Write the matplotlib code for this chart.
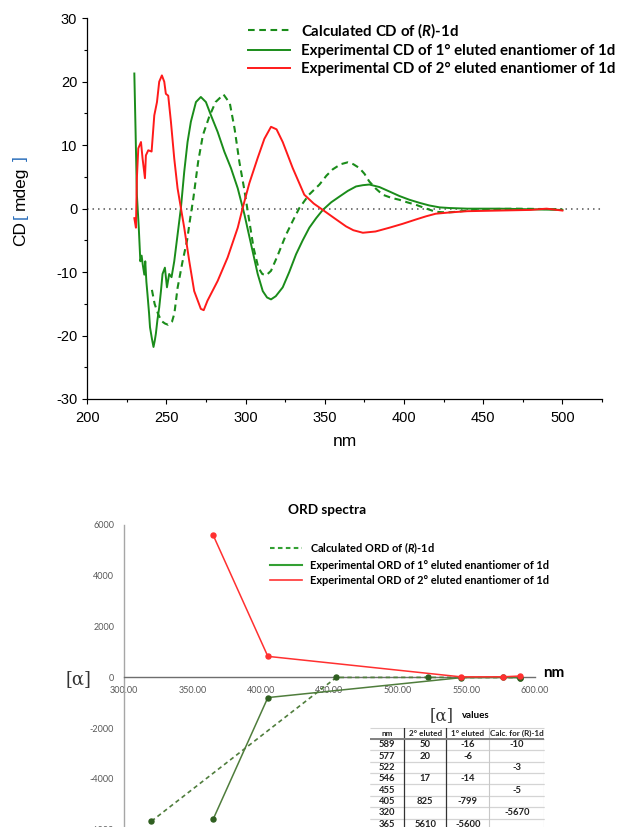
import matplotlib
matplotlib.use("Agg")
import matplotlib.pyplot as plt
from matplotlib.lines import Line2D
from matplotlib.ticker import MultipleLocator, FixedLocator, FuncFormatter

plt.rcParams['axes.unicode_minus'] = False
plt.rcParams['mathtext.fontset'] = 'custom'
plt.rcParams['mathtext.it'] = 'Lato:italic:bold'
plt.rcParams['mathtext.rm'] = 'Lato:bold'

# ---------------- CD data ----------------
cd_exp1_nm = [229.7, 230.5, 231.3, 232.5, 233.5, 234.3, 235.0, 236.0, 236.6, 237.3, 238.0,
              239.0, 239.6, 240.8, 241.8, 242.6, 243.3, 244.3, 245.4, 246.5, 247.5, 249.0,
              250.3, 251.7, 253.2, 254.9, 257.0, 259.1, 261.2, 263.3, 265.4, 268.6, 271.7,
              274.9, 278.1, 282.3, 286.5, 290.7, 295.0, 299.2, 303.4, 307.6, 310.8, 313.5,
              316.0, 319.0, 323.4, 327.5, 331.8, 336.0, 340.2, 344.5, 348.7, 354.0, 359.2,
              364.5, 369.7, 374.0, 378.1, 384.5, 390.8, 397.0, 403.4, 410.0, 416.0, 422.5,
              428.7, 440.0, 460.0, 480.0, 500.0]
cd_exp1_val = [21.3, 12.0, 2.2, -3.0, -8.3, -7.4, -8.8, -10.4, -8.3, -11.5, -13.5,
               -16.5, -18.7, -20.5, -21.8, -20.8, -19.7, -17.5, -15.6, -13.0, -10.3, -9.3,
               -12.4, -10.3, -10.8, -8.3, -4.1, 0.1, 5.8, 10.5, 13.7, 16.8, 17.6,
               16.8, 14.7, 12.1, 9.0, 6.4, 3.2, -0.9, -5.6, -10.3, -13.0, -14.0,
               -14.3, -13.8, -12.4, -10.0, -7.2, -5.0, -3.0, -1.5, -0.2, 1.0, 1.9,
               2.8, 3.5, 3.7, 3.8, 3.4, 2.7, 2.0, 1.4, 0.9, 0.5, 0.2,
               0.1, 0.0, 0.0, -0.1, -0.2]

cd_exp2_nm = [229.7, 230.7, 231.3, 232.2, 233.9, 234.9, 236.4, 237.0, 238.5, 240.6, 242.3,
              244.0, 245.4, 247.1, 248.6, 249.6, 251.1, 252.8, 254.9, 257.0, 259.1, 261.2,
              264.4, 267.5, 271.7, 273.5, 275.9, 282.3, 288.6, 295.0, 298.1, 302.3, 307.6,
              311.8, 316.0, 319.5, 323.4, 329.7, 337.0, 343.0, 348.7, 356.0, 363.4, 368.0,
              374.0, 382.0, 390.8, 399.0, 407.6, 414.0, 420.0, 428.7, 440.0, 460.0, 480.0,
              490.0, 500.0]
cd_exp2_val = [-1.5, -3.0, 4.8, 9.5, 10.5, 7.9, 4.8, 8.4, 9.2, 9.0, 14.7,
               16.8, 20.0, 21.0, 20.0, 18.1, 17.8, 13.7, 7.9, 3.2, 0.1, -3.0,
               -8.3, -13.0, -15.8, -16.0, -14.5, -11.4, -7.7, -3.0, 0.1, 4.0, 8.0,
               11.0, 12.9, 12.5, 10.5, 6.4, 2.2, 0.8, -0.2, -1.5, -2.8, -3.4,
               -3.8, -3.6, -3.0, -2.4, -1.7, -1.2, -0.8, -0.6, -0.4, -0.3, -0.2,
               0.0, -0.3]

cd_calc_nm = [240.8, 242.5, 244.7, 246.8, 249.0, 251.0, 253.5, 255.0, 257.0, 260.0, 263.0,
              265.0, 267.0, 270.0, 273.0, 277.0, 281.0, 286.0, 290.0, 293.0, 296.0, 299.0,
              302.0, 305.0, 308.0, 310.5, 313.0, 316.0, 320.0, 325.5, 330.0, 333.9, 340.0,
              346.6, 351.0, 355.0, 360.0, 364.4, 368.0, 371.8, 375.0, 378.0, 382.0, 386.5,
              392.0, 397.0, 402.0, 407.6, 413.0, 420.0, 427.0, 433.0, 440.0, 450.0, 470.0,
              500.0]
cd_calc_val = [-12.8, -15.0, -16.6, -17.7, -18.1, -18.3, -17.8, -16.5, -12.5, -8.5, -5.0,
               -1.5, 1.7, 7.4, 11.6, 14.5, 16.8, 18.0, 16.6, 12.6, 7.4, 3.2,
               -1.5, -6.2, -9.3, -10.3, -10.5, -9.8, -7.5, -4.1, -1.8, 0.1, 2.2,
               3.8, 5.2, 6.2, 7.0, 7.3, 7.0, 6.4, 5.5, 4.3, 3.2, 2.2,
               1.7, 1.4, 1.0, 0.6, 0.1, -0.5, -0.6, -0.5, -0.3, -0.1, 0.0,
               -0.1]

cd_labels = ['Calculated CD of ($\\mathit{R}$)-1d',
             'Experimental CD of 1\u00b0 eluted enantiomer of 1d',
             'Experimental CD of 2\u00b0 eluted enantiomer of 1d']

# ---------------- ORD data (table values) ----------------
ord_nm = [589, 577, 522, 546, 455, 405, 320, 365]
ord_2nd = [50, 20, None, 17, None, 825, None, 5610]
ord_1st = [-16, -6, None, -14, None, -799, None, -5600]
ord_calc = [-10, None, -3, None, -5, None, -5670, None]
ord_header = ['nm', '2\u00b0 eluted', '1\u00b0 eluted', 'Calc. for (R)-1d']
ord_labels = ['Calculated ORD of ($\\mathit{R}$)-1d',
              'Experimental ORD of 1\u00b0 eluted enantiomer of 1d',
              'Experimental ORD of 2\u00b0 eluted enantiomer of 1d']

W, H = 619, 827
def fx(x):
    return x / W
def fy(y):
    return 1 - y / H

fig = plt.figure(figsize=(W / 100, H / 100), dpi=100)

# ======================= CD chart =======================
GREEN = '#1a8c1a'
RED = '#ff1a1a'
ax = fig.add_axes([fx(87.3), fy(399), fx(602) - fx(87.3), fy(18.3) - fy(399)])
ax.axhline(0, color='#555555', lw=1.1, ls=(0, (1, 2.6)), zorder=1)
ax.plot(cd_calc_nm, cd_calc_val, color=GREEN, lw=1.5, dashes=(3.2, 2.2), label=cd_labels[0], zorder=3)
ax.plot(cd_exp1_nm, cd_exp1_val, color=GREEN, lw=1.4, label=cd_labels[1], zorder=3)
ax.plot(cd_exp2_nm, cd_exp2_val, color=RED, lw=1.4, label=cd_labels[2], zorder=4)
ax.set_xlim(200, 525)
ax.set_ylim(-30, 30)
for s in ['top', 'right']:
    ax.spines[s].set_visible(False)
for s in ['left', 'bottom']:
    ax.spines[s].set_linewidth(0.9)
ax.xaxis.set_major_locator(FixedLocator([200, 250, 300, 350, 400, 450, 500]))
ax.xaxis.set_minor_locator(MultipleLocator(25))
ax.yaxis.set_major_locator(MultipleLocator(10))
ax.yaxis.set_minor_locator(MultipleLocator(5))
ax.tick_params(which='major', length=3.8, width=0.8, direction='out', labelsize=10.5)
ax.tick_params(which='minor', length=2.0, width=0.8, direction='out')
ax.tick_params(axis='x', which='major', pad=5)
ax.tick_params(axis='y', which='major', pad=3.5)
for lab in ax.get_xticklabels() + ax.get_yticklabels():
    lab.set_fontfamily('Liberation Sans')
ax.set_xlabel('nm', fontsize=12.5, family='Liberation Sans', labelpad=6)

leg = ax.legend(loc='upper left', bbox_to_anchor=(fx(248.3), fy(21.0)),
                bbox_transform=fig.transFigure, frameon=False, borderpad=0, borderaxespad=0,
                handlelength=2.8, handletextpad=0.72, labelspacing=0.28,
                prop={'family': 'Lato', 'weight': 'bold', 'size': 10.8})

# y label with blue brackets
ylab_parts = [('CD', 'black', 234), ('[', '#2a6ebb', 216.5), ('mdeg', 'black', 188), (']', '#2a6ebb', 159)]
for txt, col, yy in ylab_parts:
    fig.text(fx(20.7), fy(yy), txt, rotation=90, color=col, fontsize=12.5,
             family='Liberation Sans', ha='center', va='center')

# ======================= ORD chart =======================
OGREEN = '#4f7d3c'
OGREEN_M = '#2f5f20'
ORED = '#ff3030'
ax2 = fig.add_axes([fx(124), fy(829.6), fx(535) - fx(124), fy(525) - fy(829.6)])

def series(vals):
    pts = sorted((n, v) for n, v in zip(ord_nm, vals) if v is not None)
    return [p[0] for p in pts], [p[1] for p in pts]

xc, yc = series(ord_calc)
x1, y1 = series(ord_1st)
x2, y2 = series(ord_2nd)
ax2.plot(xc, yc, color=OGREEN, lw=1.2, dashes=(2.6, 2.0), marker='o', ms=3.6,
         mfc=OGREEN_M, mec=OGREEN_M, zorder=3)
ax2.plot(x1, y1, color=OGREEN, lw=1.1, marker='o', ms=3.6, mfc=OGREEN_M, mec=OGREEN_M, zorder=3)
ax2.plot(x2, y2, color=ORED, lw=1.1, marker='o', ms=3.6, mfc=ORED, mec=ORED, zorder=4)
ax2.set_xlim(300, 600)
ax2.set_ylim(-6000, 6000)
ax2.spines['top'].set_visible(False)
ax2.spines['right'].set_visible(False)
ax2.spines['bottom'].set_position(('data', 0))
ax2.spines['bottom'].set_color('#6e6e6e')
ax2.spines['bottom'].set_linewidth(1.0)
ax2.spines['left'].set_color('#a6a6a6')
ax2.spines['left'].set_linewidth(1.0)
ax2.xaxis.set_major_locator(FixedLocator([300, 350, 400, 450, 500, 550, 600]))
ax2.xaxis.set_major_formatter(FuncFormatter(lambda v, p: '%.2f' % v))
ax2.yaxis.set_major_locator(FixedLocator([-6000, -4000, -2000, 0, 2000, 4000, 6000]))
ax2.yaxis.set_major_formatter(FuncFormatter(lambda v, p: '%d' % v))
ax2.tick_params(length=0, labelsize=6.5, labelcolor='#595959')
ax2.tick_params(axis='x', pad=6.5)
ax2.tick_params(axis='y', pad=7)
for lab in ax2.get_xticklabels() + ax2.get_yticklabels():
    lab.set_fontfamily('Lato')

fig.text(fx(327.3), fy(510), 'ORD spectra', fontsize=9.8, family='Lato', weight='bold',
         ha='center', va='center')
fig.text(fx(553.6), fy(673), 'nm', fontsize=11, family='Lato', weight='bold', ha='center', va='center')
fig.text(fx(78.3), fy(679), '[\u03b1]', fontsize=13, family='DejaVu Serif', ha='center', va='center',
         color='#333333')

ord_handles = [Line2D([], [], color='#33a033', lw=1.5, dashes=(2.2, 1.6)),
               Line2D([], [], color='#33a033', lw=1.5),
               Line2D([], [], color='#ff3333', lw=1.2)]
ax2.legend(ord_handles, ord_labels, loc='upper left', bbox_to_anchor=(fx(270), fy(540.0)),
           bbox_transform=fig.transFigure, frameon=False, borderpad=0, borderaxespad=0,
           handlelength=2.9, handletextpad=0.7, labelspacing=0.38,
           prop={'family': 'Lato', 'weight': 'bold', 'size': 7.9})

# ---------------- table of [alpha] values ----------------
fig.text(fx(441.7), fy(716), '[\u03b1]', fontsize=12, family='DejaVu Serif', ha='center', va='center',
         color='#333333')
fig.text(fx(461.5), fy(716), 'values', fontsize=7, family='Lato', weight='bold', ha='left', va='center')

col_w = [34.3, 42.0, 43.0, 55.0]
tot_w = sum(col_w)
row_h = 11.35
nrows = len(ord_nm) + 1
tb_top = 727.7
axt = fig.add_axes([fx(370), fy(tb_top + nrows * row_h), fx(370 + tot_w) - fx(370),
                    fy(tb_top) - fy(tb_top + nrows * row_h)])
axt.axis('off')
axt.set_xlim(0, 1)
axt.set_ylim(0, 1)

def fmt(v):
    return '' if v is None else str(v)

cells = [[str(n), fmt(a), fmt(b), fmt(c)] for n, a, b, c in zip(ord_nm, ord_2nd, ord_1st, ord_calc)]
tbl = axt.table(cellText=cells, colLabels=ord_header, cellLoc='center', bbox=[0, 0, 1, 1],
                colWidths=[w / tot_w for w in col_w])
tbl.auto_set_font_size(False)
for (r, c), cell in tbl.get_celld().items():
    cell.set_edgecolor('#d4d4d4')
    cell.set_linewidth(0.8)
    cell.visible_edges = 'horizontal'
    cell.set_facecolor('none')
    cell.PAD = 0.02
    cell.get_text().set_fontfamily('Lato')
    cell.get_text().set_fontweight('bold')
    cell.get_text().set_fontsize(5.9 if r == 0 else 6.8)
    cell.get_text().set_color('#222222')
b1 = col_w[0] / tot_w
b2 = (col_w[0] + col_w[1]) / tot_w
b3 = (col_w[0] + col_w[1] + col_w[2]) / tot_w
axt.axvline(b1, color='#333333', lw=0.9, zorder=5)
axt.axvline(b2, color='#333333', lw=0.9, zorder=5)
axt.axvline(b3, color='#c8c8c8', lw=0.8, zorder=5)
axt.axvline(1.0, color='#c8c8c8', lw=0.8, zorder=5)
axt.axhline(1 - 1.0 / nrows, color='#808080', lw=1.4, zorder=5)

fig.savefig('out.png', dpi=100)
